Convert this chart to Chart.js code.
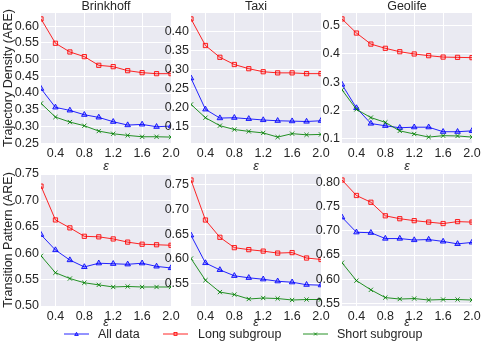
<!DOCTYPE html>
<html>
<head>
<meta charset="utf-8">
<script src="https://cdn.jsdelivr.net/npm/chart.js@4/dist/chart.umd.min.js"></script>
<style>
body { margin: 0; background: #fff; }
#lienzo { position: relative; width: 484px; height: 349px; overflow: hidden; font-family: "Liberation Sans", Arial, sans-serif; }
#lienzo canvas { position: absolute; }
.leyenda { position: absolute; top: 326px; height: 16px; line-height: 16px; font-size: 12.5px; color: #262626; white-space: nowrap; }
.leyenda svg { position: absolute; left: 0; top: 4px; }
.leyenda span { position: absolute; }
</style>
</head>
<body>
<div id="lienzo"></div>
<script>
// datos
const eps = [0.2, 0.4, 0.6, 0.8, 1.0, 1.2, 1.4, 1.6, 1.8, 2.0];
const xTicks = [0.4, 0.8, 1.2, 1.6, 2.0];
const series = ['All data', 'Long subgroup', 'Short subgroup'];
const datasetsNombres = ['Brinkhoff', 'Taxi', 'Geolife'];
const metricas = ['Trajectory Density (ARE)', 'Transition Pattern (ARE)'];

// Trajectory Density
const tdBrinkhoffAll   = [0.413, 0.357, 0.348, 0.335, 0.327, 0.314, 0.304, 0.306, 0.299, 0.301];
const tdBrinkhoffLong  = [0.622, 0.549, 0.523, 0.509, 0.483, 0.479, 0.467, 0.461, 0.458, 0.458];
const tdBrinkhoffShort = [0.369, 0.328, 0.313, 0.302, 0.286, 0.278, 0.273, 0.269, 0.269, 0.268];
const tdTaxiAll   = [0.276, 0.194, 0.171, 0.172, 0.169, 0.166, 0.164, 0.163, 0.162, 0.164];
const tdTaxiLong  = [0.432, 0.362, 0.331, 0.312, 0.301, 0.293, 0.290, 0.290, 0.288, 0.288];
const tdTaxiShort = [0.207, 0.172, 0.151, 0.141, 0.136, 0.132, 0.121, 0.130, 0.127, 0.128];
const tdGeolifeAll   = [0.292, 0.209, 0.154, 0.146, 0.139, 0.141, 0.141, 0.125, 0.125, 0.128];
const tdGeolifeLong  = [0.524, 0.474, 0.435, 0.420, 0.408, 0.400, 0.394, 0.389, 0.388, 0.387];
const tdGeolifeShort = [0.273, 0.204, 0.175, 0.158, 0.128, 0.117, 0.106, 0.111, 0.110, 0.106];

// Transition Pattern
const tpBrinkhoffAll   = [0.635, 0.606, 0.587, 0.574, 0.581, 0.580, 0.579, 0.581, 0.575, 0.572];
const tpBrinkhoffLong  = [0.727, 0.663, 0.648, 0.632, 0.631, 0.627, 0.621, 0.617, 0.616, 0.615];
const tpBrinkhoffShort = [0.595, 0.563, 0.552, 0.544, 0.540, 0.536, 0.537, 0.536, 0.536, 0.536];
const tpTaxiAll   = [0.648, 0.592, 0.578, 0.566, 0.562, 0.559, 0.555, 0.553, 0.548, 0.547];
const tpTaxiLong  = [0.760, 0.679, 0.644, 0.623, 0.619, 0.616, 0.612, 0.613, 0.602, 0.599];
const tpTaxiShort = [0.601, 0.557, 0.533, 0.528, 0.519, 0.521, 0.520, 0.517, 0.518, 0.518];
const tpGeolifeAll   = [0.728, 0.697, 0.696, 0.684, 0.684, 0.681, 0.682, 0.678, 0.673, 0.676];
const tpGeolifeLong  = [0.805, 0.773, 0.759, 0.731, 0.725, 0.721, 0.718, 0.715, 0.719, 0.718];
const tpGeolifeShort = [0.634, 0.597, 0.578, 0.562, 0.559, 0.560, 0.557, 0.558, 0.558, 0.557];

// tick labels del eje y
const yTicksTdBrinkhoff = [0.25, 0.30, 0.35, 0.40, 0.45, 0.50, 0.55, 0.60];
const yTicksTdTaxi = [0.15, 0.20, 0.25, 0.30, 0.35, 0.40];
const yTicksTdGeolife = [0.1, 0.2, 0.3, 0.4, 0.5];
const yTicksTpBrinkhoff = [0.50, 0.55, 0.60, 0.65, 0.70, 0.75];
const yTicksTpTaxi = [0.55, 0.60, 0.65, 0.70, 0.75];
const yTicksTpGeolife = [0.55, 0.60, 0.65, 0.70, 0.75, 0.80];

const fuente = '"Liberation Sans", Arial, sans-serif';
const colorTexto = '#262626';
const estilos = [
    { borde: 'rgba(0,0,255,0.85)', relleno: 'rgba(0,0,255,0.3)', punto: 'triangle', radio: 3.2 },
    { borde: 'rgba(255,0,0,0.85)', relleno: 'rgba(255,0,0,0.12)', punto: 'rect', radio: 3 },
    { borde: 'rgba(0,128,0,0.85)', relleno: 'rgba(0,128,0,0.3)', punto: 'crossRot', radio: 3 }
];

const fondo = {
    id: 'fondo',
    beforeDraw: function (chart) {
        let a = chart.chartArea;
        let c = chart.ctx;
        c.save();
        c.fillStyle = '#EAEAF2';
        c.fillRect(a.left, a.top, a.right - a.left, a.bottom - a.top);
        c.restore();
    }
};

function limites(valores) {
    // margen automatico del 5%, como matplotlib
    let todos = [].concat.apply([], valores);
    let min = Math.min.apply(null, todos);
    let max = Math.max.apply(null, todos);
    let m = (max - min) * 0.05;
    return [min - m, max + m];
}

function construirPanel(fila, col, valores, yTicks, decimales, lim) {
    let plotIzq = [41, 191, 342][col];
    let plotArriba = [13, 174][fila];
    let plotAlto = [130, 132][fila];
    let ejeX = [35, 28][fila];
    let anchoY = 41;

    let cv = document.createElement('canvas');
    cv.width = anchoY + 130 + 12;
    cv.height = 13 + plotAlto + ejeX;
    cv.style.left = (plotIzq - anchoY) + 'px';
    cv.style.top = (plotArriba - 13) + 'px';
    document.getElementById('lienzo').appendChild(cv);

    let ctx = cv.getContext('2d');
    let rango = lim || limites(valores);

    let ds = [];
    for (let i = 0; i < valores.length; i++) {
        let e = estilos[i];
        ds.push({
            label: series[i],
            data: eps.map((x, k) => ({ x: x, y: valores[i][k] })),
            borderColor: e.borde,
            backgroundColor: e.relleno,
            borderWidth: 1,
            pointStyle: e.punto,
            pointRadius: e.radio,
            pointBorderWidth: 1,
            pointBorderColor: e.borde,
            pointBackgroundColor: e.relleno,
            tension: 0,
            order: valores.length - i
        });
    }

    new Chart(ctx, {
        type: 'line',
        data: { datasets: ds },
        options: {
            responsive: false,
            animation: false,
            devicePixelRatio: 1,
            layout: { padding: { top: fila === 0 ? 0 : 13, right: 12, left: 0, bottom: 0 } },
            plugins: {
                legend: { display: false },
                tooltip: { enabled: false },
                title: {
                    display: fila === 0,
                    text: datasetsNombres[col],
                    fullSize: false,
                    color: colorTexto,
                    font: { family: fuente, size: 12.5, weight: 'normal', lineHeight: 1.04 },
                    padding: 0
                }
            },
            scales: {
                x: {
                    type: 'linear',
                    min: 0.2,
                    max: 2.0,
                    afterBuildTicks: function (s) { s.ticks = xTicks.map(v => ({ value: v })); },
                    afterFit: function (s) { s.height = ejeX; },
                    grid: { color: '#ffffff', lineWidth: 1, drawTicks: false },
                    border: { display: false },
                    ticks: {
                        padding: 3,
                        color: colorTexto,
                        font: { family: fuente, size: 12.5 },
                        maxRotation: 0,
                        callback: v => v.toFixed(1)
                    },
                    title: {
                        display: true,
                        text: 'ε',
                        color: colorTexto,
                        font: { family: fuente, size: 12.5, style: 'italic' },
                        padding: { top: 0, bottom: 4 }
                    }
                },
                y: {
                    type: 'linear',
                    min: rango[0],
                    max: rango[1],
                    afterBuildTicks: function (s) { s.ticks = yTicks.map(v => ({ value: v })); },
                    afterFit: function (s) { s.width = anchoY; },
                    grid: { color: '#ffffff', lineWidth: 1, drawTicks: false },
                    border: { display: false },
                    ticks: {
                        padding: 2,
                        color: colorTexto,
                        font: { family: fuente, size: 12.5 },
                        callback: v => v.toFixed(decimales)
                    },
                    title: {
                        display: col === 0,
                        text: metricas[fila],
                        color: colorTexto,
                        font: { family: fuente, size: 12.5 },
                        padding: { top: 1, bottom: 0 }
                    }
                }
            }
        },
        plugins: [fondo]
    });
}

function construirLeyenda() {
    let lienzo = document.getElementById('lienzo');
    let posiciones = [64, 163, 303];
    let marcas = [
        '<path d="M12.5 2.3 L14.3 5.5 L10.7 5.5 Z" fill="rgba(0,0,255,0.3)" stroke="rgb(0,0,255)" stroke-width="0.8"/>',
        '<rect x="11" y="2.5" width="3" height="3" fill="rgba(255,0,0,0.12)" stroke="rgb(255,0,0)" stroke-width="0.8"/>',
        '<path d="M11 2.5 L14 5.5 M14 2.5 L11 5.5" stroke="rgb(0,128,0)" stroke-width="0.8"/>'
    ];
    let lineas = ['rgba(0,0,255,0.85)', 'rgba(255,0,0,0.85)', 'rgba(0,128,0,0.85)'];
    for (let i = 0; i < series.length; i++) {
        let d = document.createElement('div');
        d.className = 'leyenda';
        d.style.left = posiciones[i] + 'px';
        d.innerHTML = `<svg width="25" height="8"><line x1="0" y1="4" x2="25" y2="4" stroke="${lineas[i]}" stroke-width="1"/>${marcas[i]}</svg>` +
            `<span style="left:${[34, 35, 34][i]}px">${series[i]}</span>`;
        lienzo.appendChild(d);
    }
}

construirPanel(0, 0, [tdBrinkhoffAll, tdBrinkhoffLong, tdBrinkhoffShort], yTicksTdBrinkhoff, 2);
construirPanel(0, 1, [tdTaxiAll, tdTaxiLong, tdTaxiShort], yTicksTdTaxi, 2);
construirPanel(0, 2, [tdGeolifeAll, tdGeolifeLong, tdGeolifeShort], yTicksTdGeolife, 1);
construirPanel(1, 0, [tpBrinkhoffAll, tpBrinkhoffLong, tpBrinkhoffShort], yTicksTpBrinkhoff, 2, [0.50, 0.75]);
construirPanel(1, 1, [tpTaxiAll, tpTaxiLong, tpTaxiShort], yTicksTpTaxi, 2);
construirPanel(1, 2, [tpGeolifeAll, tpGeolifeLong, tpGeolifeShort], yTicksTpGeolife, 2);
construirLeyenda();
</script>
</body>
</html>
